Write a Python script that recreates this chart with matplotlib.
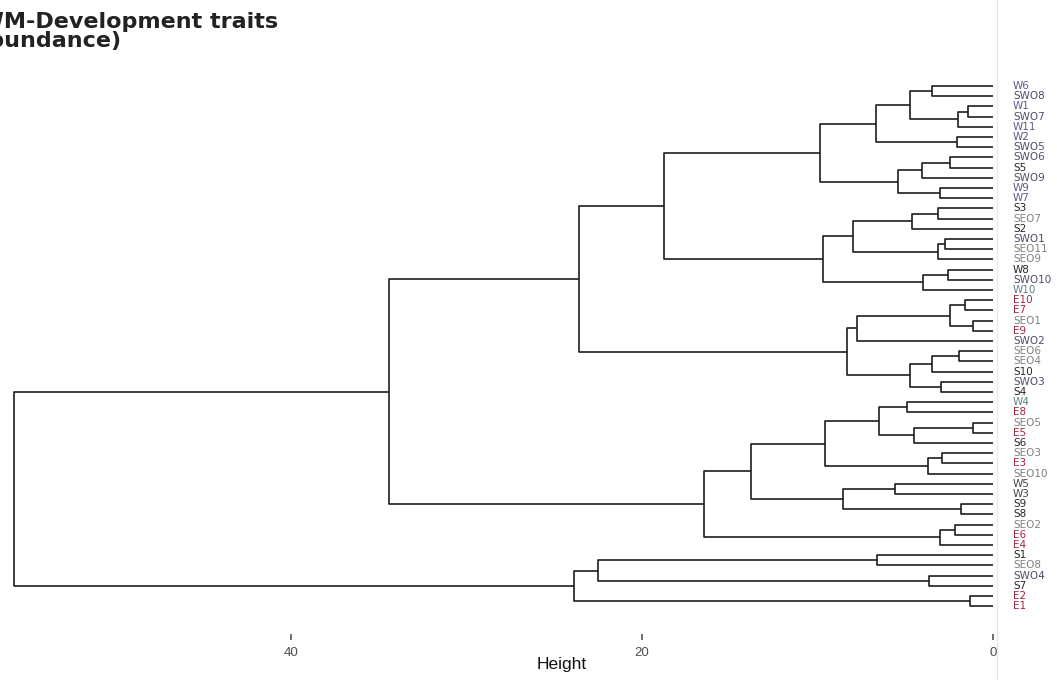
import matplotlib.pyplot as plt
from matplotlib.lines import Line2D

# leaf order top to bottom
leaves = [
    "W6", "SWO8", "W1", "SWO7", "W11", "W2", "SWO5", "SWO6", "S5", "SWO9",
    "W9", "W7", "S3", "SEO7", "S2", "SWO1", "SEO11", "SEO9", "W8", "SWO10",
    "W10", "E10", "E7", "SEO1", "E9", "SWO2", "SEO6", "SEO4", "S10", "SWO3",
    "S4", "W4", "E8", "SEO5", "E5", "S6", "SEO3", "E3", "SEO10", "W5",
    "W3", "S9", "S8", "SEO2", "E6", "E4", "S1", "SEO8", "SWO4", "S7",
    "E2", "E1",
]

group_colors = {
    "W": "#5c5a86",
    "SWO": "#4e4c68",
    "S": "#262626",
    "SEO": "#808080",
    "E": "#a3263f",
}
# a few labels are printed in other shades
special_colors = {"W10": "#5f8283", "W4": "#5f8283", "W8": "#262626",
                  "W5": "#444444", "W3": "#444444"}

# merges: (left child, right child, height); "nK" is the K-th merge
merges = [
    ("W6", "SWO8", 3.47),     # n0
    ("W1", "SWO7", 1.42),     # n1
    ("n1", "W11", 1.99),      # n2
    ("n0", "n2", 4.72),       # n3
    ("W2", "SWO5", 2.05),     # n4
    ("n3", "n4", 6.65),       # n5
    ("SWO6", "S5", 2.44),     # n6
    ("n6", "SWO9", 4.03),     # n7
    ("W9", "W7", 3.01),       # n8
    ("n7", "n8", 5.40),       # n9
    ("n5", "n9", 9.83),       # n10
    ("S3", "SEO7", 3.13),     # n11
    ("n11", "S2", 4.60),      # n12
    ("SWO1", "SEO11", 2.73),  # n13
    ("n13", "SEO9", 3.15),    # n14
    ("n12", "n14", 7.95),     # n15
    ("W8", "SWO10", 2.56),    # n16
    ("n16", "W10", 3.98),     # n17
    ("n15", "n17", 9.66),     # n18
    ("n10", "n18", 18.75),    # n19
    ("E10", "E7", 1.59),      # n20
    ("SEO1", "E9", 1.14),     # n21
    ("n20", "n21", 2.44),     # n22
    ("n22", "SWO2", 7.73),    # n23
    ("SEO6", "SEO4", 1.93),   # n24
    ("n24", "S10", 3.47),     # n25
    ("SWO3", "S4", 2.95),     # n26
    ("n25", "n26", 4.72),     # n27
    ("n23", "n27", 8.30),     # n28
    ("n19", "n28", 23.6),     # n29
    ("W4", "E8", 4.89),       # n30
    ("SEO5", "E5", 1.14),     # n31
    ("n31", "S6", 4.49),      # n32
    ("n30", "n32", 6.48),     # n33
    ("SEO3", "E3", 2.90),     # n34
    ("n34", "SEO10", 3.69),   # n35
    ("n33", "n35", 9.55),     # n36
    ("W5", "W3", 5.57),       # n37
    ("S9", "S8", 1.82),       # n38
    ("n37", "n38", 8.52),     # n39
    ("n36", "n39", 13.81),    # n40
    ("SEO2", "E6", 2.16),     # n41
    ("n41", "E4", 3.01),      # n42
    ("n40", "n42", 16.48),    # n43
    ("n29", "n43", 34.4),     # n44
    ("S1", "SEO8", 6.59),     # n45
    ("SWO4", "S7", 3.64),     # n46
    ("n45", "n46", 22.5),     # n47
    ("E2", "E1", 1.31),       # n48
    ("n47", "n48", 23.86),    # n49
    ("n44", "n49", 55.8),     # n50
]

x_ticks = [40, 20, 0]
title = "CWM-Development traits\n(abundance)"


def label_color(name):
    if name in special_colors:
        return special_colors[name]
    for prefix in ("SWO", "SEO", "S", "W", "E"):
        if name.startswith(prefix):
            return group_colors[prefix]
    return "black"


W, H = 1057, 680
fig = plt.figure(figsize=(W / 100, H / 100), dpi=100)
ax = fig.add_axes([0, 1 - 634 / H, 997 / W, (634 - 70) / H])

# position (height, y) of every node
pos = {name: (0.0, i) for i, name in enumerate(leaves)}
line_kw = dict(color="#1e1e1e", lw=1.2, solid_capstyle="butt")
for k, (a, b, h) in enumerate(merges):
    ha_, ya = pos[a]
    hb_, yb = pos[b]
    ax.plot([ha_, h, h, hb_], [ya, ya, yb, yb], **line_kw)
    pos[f"n{k}"] = (h, (ya + yb) / 2)

# leaf labels
for i, name in enumerate(leaves):
    ax.text(-1.14, i, name, color=label_color(name), fontsize=7.5,
            va="center", ha="left", clip_on=False)

ax.set_xlim(993 / 17.55, -4 / 17.55)
ax.set_ylim((634 - 86) / 10.2, (70 - 86) / 10.2)
ax.set_yticks([])
ax.set_xticks(x_ticks)
ax.set_xticklabels([str(t) for t in x_ticks], family="Liberation Sans")
ax.tick_params(axis="x", length=4, width=1.2, color="#555555",
               labelcolor="#4d4d4d", labelsize=9.5, pad=5)
for s in ax.spines.values():
    s.set_visible(False)

fig.text(562 / W, 1 - 665 / H, "Height", ha="center", va="center",
         fontsize=12.5, family="Liberation Sans", color="#111111")

# the title is cropped at the left edge in the source image
fig.text(-37 / W, 1 - 12 / H, title, ha="left", va="top", fontsize=16,
         fontweight="bold", color="#222222", linespacing=0.95)

# light panel edge right of the leaves
fig.add_artist(Line2D([997 / W, 997 / W], [0, 1], color="#e4e4e4", lw=0.8))

fig.savefig("out.png", dpi=100)
